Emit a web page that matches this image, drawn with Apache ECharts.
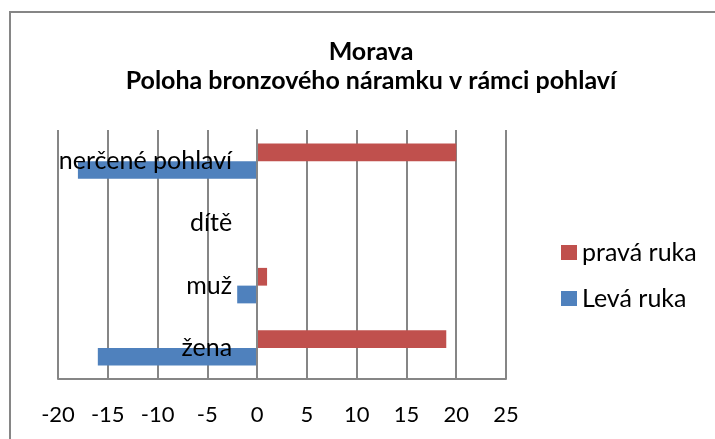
<!DOCTYPE html>
<html>
<head>
<meta charset="utf-8">
<script src="https://cdn.jsdelivr.net/npm/echarts@6/dist/echarts.min.js"></script>
<style>
    html, body { margin: 0; padding: 0; background: #fff; }
    #chart { width: 715px; height: 439px; }
</style>
</head>
<body>
<div id="chart"></div>
<script>
    // kategorie zdola nahoru
    var categories = ['žena', 'muž', 'dítě', 'nerčené pohlaví'];
    var levaRuka = [-16, -2, 0, -18];
    var pravaRuka = [19, 1, 0, 20];
    var seriesNames = ['Levá ruka', 'pravá ruka'];
    var xTicks = { min: -20, max: 25, step: 5 };

    var FONT = 'Lato';
    var GRID_COLOR = '#868686';
    var GRID_LEFT = 58;
    var GRID_RIGHT = 209;
    var PLOT_W = 715 - GRID_LEFT - GRID_RIGHT;

    // osa kategorii lezi na nule hodnotove osy
    var zeroOffset = -PLOT_W * (0 - xTicks.min) / (xTicks.max - xTicks.min);

    var chart = echarts.init(document.getElementById('chart'));

    var option = {
        backgroundColor: '#fff',
        animation: false,
        title: {
            text: 'Morava\nPoloha bronzového náramku v rámci pohlaví',
            left: 366,
            top: 32,
            textAlign: 'center',
            textStyle: {
                fontFamily: FONT,
                fontSize: 25,
                fontWeight: 'bold',
                color: '#000',
                lineHeight: 29
            }
        },
        legend: {
            orient: 'vertical',
            left: 556,
            top: 235,
            itemWidth: 16,
            itemHeight: 15,
            itemGap: 21,
            data: [seriesNames[1], seriesNames[0]],
            icon: 'rect',
            textStyle: { fontFamily: FONT, fontSize: 25, color: '#000' }
        },
        grid: { left: GRID_LEFT, right: GRID_RIGHT, top: 130, bottom: 60, outerBoundsMode: 'none' },
        xAxis: {
            type: 'value',
            min: xTicks.min,
            max: xTicks.max,
            interval: xTicks.step,
            axisLine: { show: true, lineStyle: { color: GRID_COLOR, width: 2 } },
            axisTick: { show: false },
            splitLine: { show: true, lineStyle: { color: GRID_COLOR, width: 2 } },
            axisLabel: { fontFamily: FONT, fontSize: 22, color: '#000', margin: 25 }
        },
        yAxis: {
            type: 'category',
            data: categories,
            z: 5,
            offset: zeroOffset,
            axisLine: { show: true, onZero: false, lineStyle: { color: GRID_COLOR, width: 2 } },
            axisTick: { show: false },
            axisLabel: { fontFamily: FONT, fontSize: 25, color: '#000', margin: 25 }
        },
        series: [
            {
                name: seriesNames[1],
                type: 'bar',
                data: pravaRuka,
                barGap: '0%',
                barCategoryGap: '43%',
                itemStyle: { color: '#C0504D' }
            },
            {
                name: seriesNames[0],
                type: 'bar',
                data: levaRuka,
                barGap: '0%',
                barCategoryGap: '43%',
                itemStyle: { color: '#4F81BD' }
            }
        ],
        graphic: [{
            type: 'rect',
            shape: { x: 10, y: 12, width: 720, height: 450 },
            style: { fill: null, stroke: GRID_COLOR, lineWidth: 2 },
            silent: true
        }]
    };

    chart.setOption(option);
</script>
</body>
</html>
